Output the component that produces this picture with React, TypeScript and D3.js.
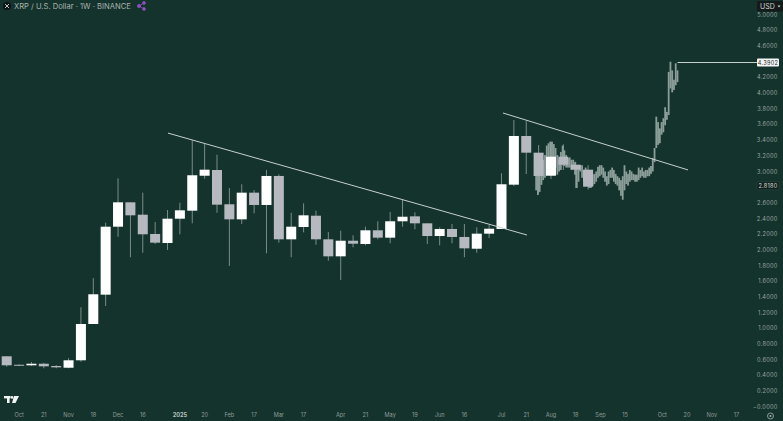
import React from "react";
import * as d3 from "d3";

const weekOpen = [0.643,0.535,0.528,0.548,0.519,0.497,0.592,1.055,1.429,2.296,2.607,2.449,2.203,2.088,2.398,2.5,2.946,3.019,2.582,2.39,2.73,2.573,2.943,2.135,2.292,2.436,2.135,1.918,2.117,2.075,2.25,2.156,2.365,2.428,2.339,2.177,2.267,2.165,2.015,2.207,2.267,2.832,3.453,3.24,2.946,3.189,3.087,3.023];
const weekClose = [0.528,0.525,0.548,0.515,0.502,0.592,1.055,1.434,2.296,2.607,2.441,2.199,2.092,2.398,2.505,2.952,3.023,2.577,2.39,2.73,2.573,2.943,2.135,2.296,2.441,2.135,1.918,2.117,2.079,2.25,2.156,2.365,2.423,2.339,2.177,2.267,2.165,2.02,2.207,2.27,2.837,3.453,3.24,2.943,3.189,3.087,3.023,2.806];
const weekHigh = [0.645,0.54,0.57,0.56,0.53,0.62,1.268,1.64,2.347,2.913,2.607,2.73,2.356,2.509,2.602,3.40,3.351,3.214,2.79,2.837,2.764,3.02,2.964,2.474,2.594,2.5,2.228,2.245,2.186,2.296,2.365,2.483,2.645,2.48,2.339,2.288,2.33,2.33,2.288,2.318,2.977,3.657,3.648,3.338,3.38,3.347,3.125,3.08];
const weekLow = [0.51,0.52,0.52,0.49,0.49,0.49,0.574,1.055,1.284,2.168,1.906,1.964,2.075,1.999,2.199,2.339,2.908,2.474,1.795,2.33,2.467,1.957,2.092,1.906,2.224,2.066,1.862,1.616,2.033,2.058,2.135,2.084,2.296,2.263,2.075,2.058,2.084,1.906,1.964,2.152,2.267,2.815,2.968,2.726,2.905,3.02,2.79,2.77];

const dayHigh = [3.08,3.15,3.08,3.02,3.15,3.21,3.33,3.36,3.38,3.38,3.35,3.30,3.21,3.15,3.25,3.33,3.27,3.21,3.17,3.18,3.15,3.15,3.12,3.08,3.08,3.08,3.08,3.02,3.05,3.02,3.02,3.00,2.96,2.97,3.00,3.06,3.08,3.08,3.05,3.00,2.94,3.00,3.02,3.05,3.02,2.97,2.94,2.92,2.89,2.94,3.08,3.00,2.97,3.02,3.00,2.97,2.96,2.96,3.05,3.02,3.05,3.00,3.02,3.02,3.05,3.07,3.17,3.30,3.70,3.63,3.55,3.63,3.68,3.82,3.76,4.27,4.40,4.29,4.17,4.38,4.29];
const dayLow = [2.76,2.70,2.74,2.83,2.89,2.92,3.00,3.05,3.08,3.15,3.08,3.05,2.96,3.00,3.02,3.08,3.07,3.05,3.05,3.05,3.02,3.05,2.96,2.79,2.87,3.00,2.92,2.87,2.82,2.82,2.79,2.79,2.82,2.84,2.87,2.92,2.94,2.96,2.92,2.87,2.82,2.84,2.92,2.92,2.87,2.84,2.82,2.76,2.69,2.64,2.76,2.84,2.82,2.87,2.89,2.89,2.87,2.87,2.89,2.92,2.94,2.92,2.92,2.94,2.94,2.97,3.00,3.12,3.30,3.34,3.36,3.47,3.50,3.59,3.66,3.72,4.06,4.01,4.04,4.10,4.14];

const priceTicks = d3.range(0, 26).map((d) => d * 0.2);
const dateIndex = [1,3,5,7,9,11,14,16,18,20,22,24,27,29,31,33,35,37,40,42,44,46,48,50,53,55,57,59];
const dateLabels = ["Oct","21","Nov","18","Dec","16","2025","20","Feb","17","Mar","17","Apr","21","May","19","Jun","16","Jul","21","Aug","18","Sep","15","Oct","20","Nov","17"];
const trendOne = [[13.04, 3.49], [42.06, 2.19]];
const trendTwo = [[40.12, 3.746], [55.08, 3.02]];
const lastPrice = 4.3902;
const markPrice = 2.818;
const dayStartWeek = 42.8;

const W = 783, H = 421;
const BG = "#14332c";
const x = d3.scaleLinear().domain([0, 1]).range([6.7, 19.07]);
const y = d3.scaleLinear().domain([0, 5]).range([406.7, 14.7]);
const line = d3.line<number[]>().x((d) => x(d[0])).y((d) => y(d[1]));
const FONT = "Inter, 'Noto Sans', sans-serif";
const BODY_W = 10;
const LINE = "#c6d0cd";

export default function App() {
  const lastX = x(dayStartWeek + (dayHigh.length - 1) / 7);
  return (
    <svg width={W} height={H} viewBox={`0 0 ${W} ${H}`} style={{ position: "absolute", left: 0, top: 0, display: "block" }} fontFamily={FONT}>
      <rect width={W} height={H} fill={BG} />

      {/* weekly wicks */}
      {weekHigh.map((h, i) => (
        <rect key={"w" + i} x={x(i) - 0.5} width={1} y={y(h)} height={y(weekLow[i]) - y(h)} fill="#7a8c88" />
      ))}

      {/* daily series */}
      {dayHigh.map((h, i) => {
        const cx = x(dayStartWeek + i / 7);
        return <rect key={"d" + i} x={cx - 0.9} width={1.8} y={y(h)} height={Math.max(1, y(dayLow[i]) - y(h))} fill="#98a8a4" opacity={0.9} />;
      })}

      {/* weekly bodies */}
      {weekOpen.map((o, i) => {
        const c = weekClose[i];
        const t = y(Math.max(o, c));
        const b = y(Math.min(o, c));
        return <rect key={"b" + i} x={x(i) - BODY_W / 2} width={BODY_W} y={t} height={Math.max(1, b - t)} fill={c >= o ? "#ffffff" : "#b6b9c0"} />;
      })}

      {/* trend lines */}
      <path d={line(trendOne) || ""} stroke={LINE} strokeWidth={1} fill="none" />
      <path d={line(trendTwo) || ""} stroke={LINE} strokeWidth={1} fill="none" />
      <line x1={lastX} x2={757} y1={y(lastPrice)} y2={y(lastPrice)} stroke={LINE} strokeWidth={1} />

      {/* price axis */}
      {priceTicks.map((p) => (
        <text key={p} x={777.5} y={y(p) + 2} textAnchor="end" fontSize={5.6} letterSpacing={0.25} fill="#98a5a2">
          {p === 0 ? "\u22120.0000" : p.toFixed(4)}
        </text>
      ))}

      {/* price labels */}
      <rect x={757} y={y(lastPrice) - 4} width={22} height={8} rx={1} fill="#f4f5f5" />
      <text x={768} y={y(lastPrice) + 2} textAnchor="middle" fontSize={5.6} letterSpacing={0.25} fill="#1c2b28">{lastPrice.toFixed(4)}</text>
      <rect x={757} y={y(markPrice) - 4} width={22} height={8} rx={1} fill="#10221e" stroke="#3a4d49" strokeWidth={0.5} />
      <text x={768} y={y(markPrice) + 2} textAnchor="middle" fontSize={5.6} letterSpacing={0.25} fill="#d5dbd9">{markPrice.toFixed(4)}</text>

      {/* currency */}
      <rect x={757} y={1} width={26} height={10.5} rx={1.5} fill="#141a1a" />
      <text x={760} y={9} fontSize={7} fill="#cfd5d3">USD</text>
      <path d="M777.5 5.5 h3 l-1.5 2 z" fill="#cfd5d3" />

      {/* time axis */}
      {dateLabels.map((l, i) => (
        <text key={i} x={x(dateIndex[i])} y={417} textAnchor="middle" fontSize={5.6} fontWeight={l === "2025" ? 700 : 400} fill={l === "2025" ? "#b7c0be" : "#8f9c99"}>
          {l}
        </text>
      ))}

      {/* header */}
      <circle cx={7} cy={6} r={4} fill="#0f1414" />
      <path d="M5 4 L9 8 M9 4 L5 8" stroke="#d8d8d8" strokeWidth={0.9} />
      <text x={14} y={9} fontSize={7.6} fill="#a8b2af">XRP / U.S. Dollar · 1W · BINANCE</text>
      <g fill="#8e4fc0" stroke="#8e4fc0" strokeWidth={0.8}>
        <line x1={139} y1={6} x2={144} y2={3} />
        <line x1={139} y1={6} x2={144} y2={9} />
        <circle cx={139} cy={6} r={1.6} />
        <circle cx={144} cy={3} r={1.4} />
        <circle cx={144} cy={9} r={1.4} />
      </g>

      {/* logo */}
      <g fill="#f2f4f3">
        <rect x={4} y={396} width={6.5} height={2.4} />
        <rect x={7} y={396} width={2.6} height={7} />
        <circle cx={12} cy={397.4} r={1.3} />
        <path d="M14 396 H19 L15.5 403 H12 Z" />
      </g>

      {/* reset icon */}
      <circle cx={770.5} cy={416} r={3} fill="none" stroke="#a8b2af" strokeWidth={0.8} />
      <circle cx={770.5} cy={416} r={1} fill="#a8b2af" />
    </svg>
  );
}
